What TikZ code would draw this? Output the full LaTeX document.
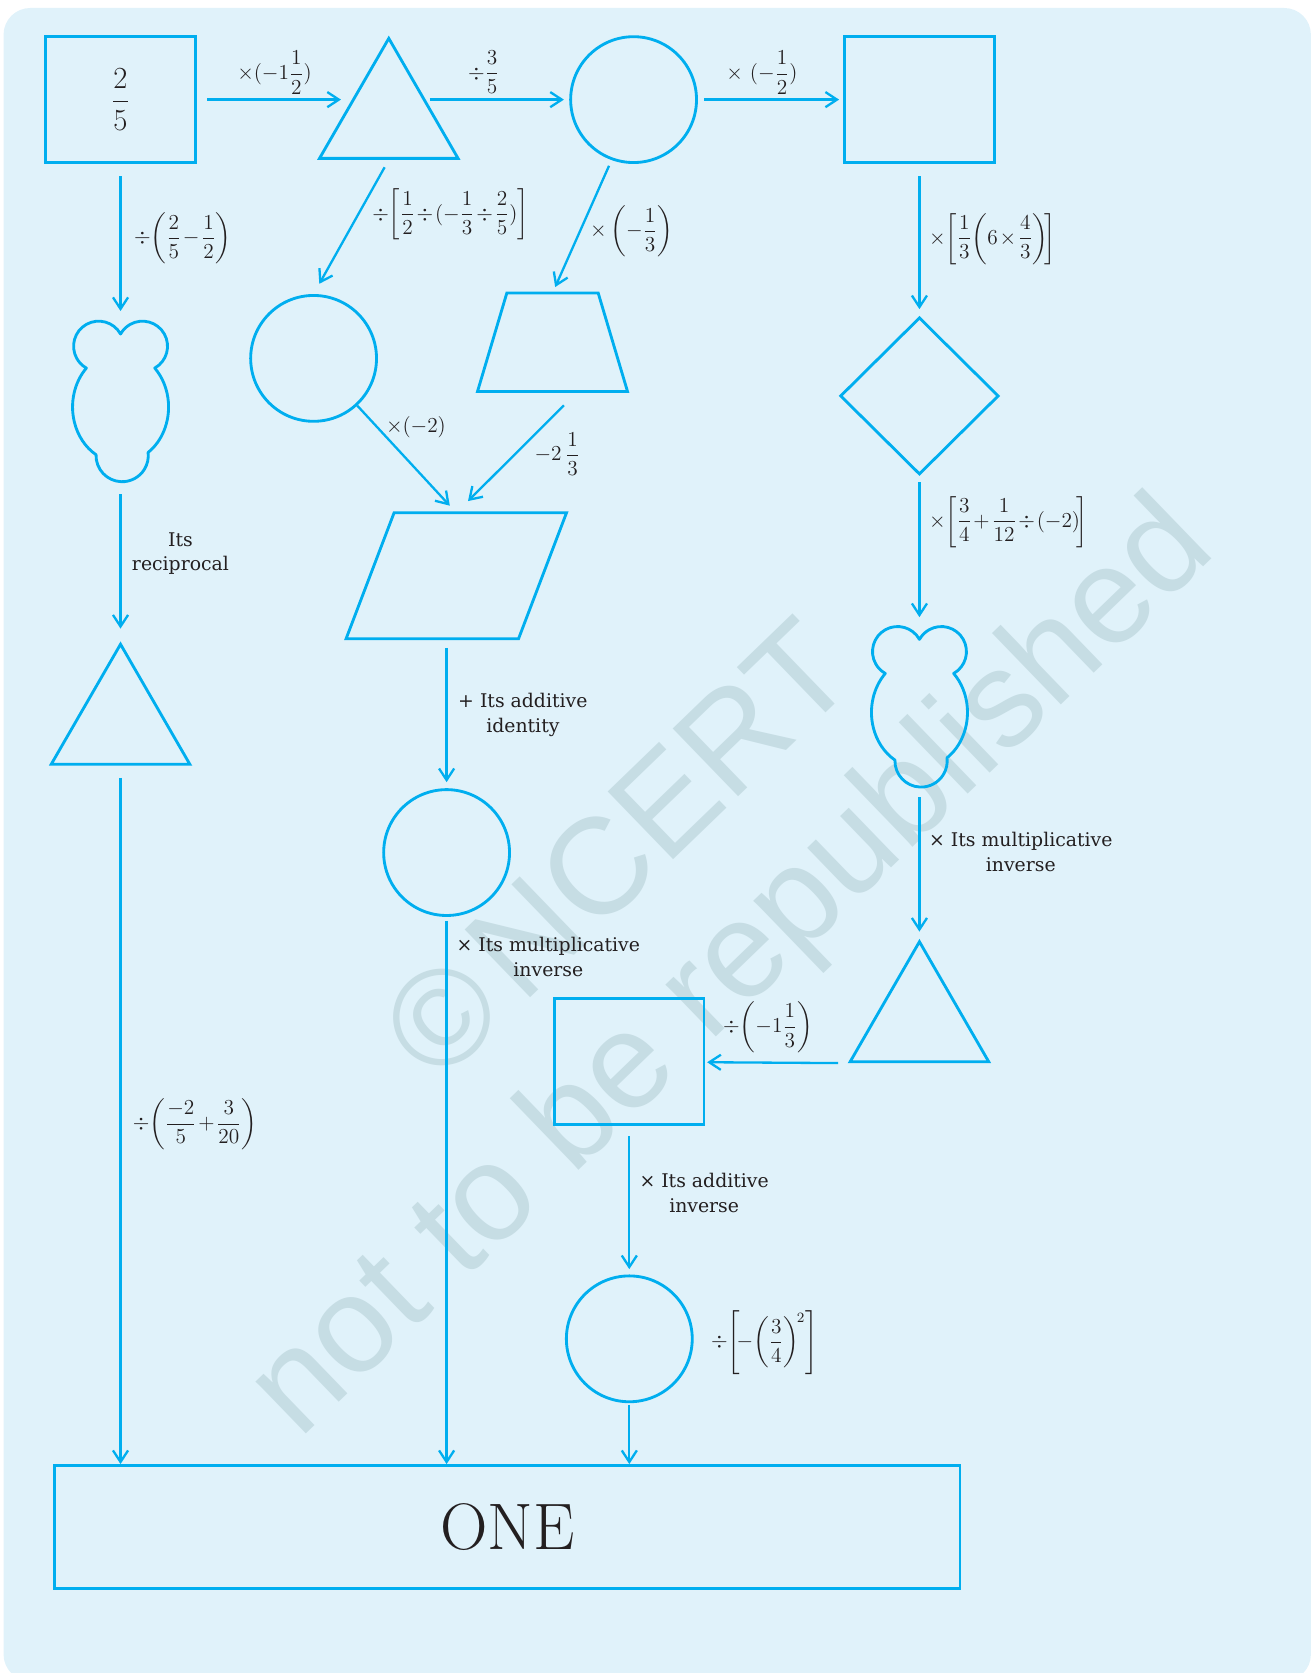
\documentclass[tikz,border=0pt]{standalone}
\usepackage{amsmath}
\usepackage{fontspec}
\newfontfamily\wmfont{Liberation Sans}
\newfontfamily\notefont{DejaVu Serif}
\usetikzlibrary{arrows.meta}
\usetikzlibrary{positioning}
\usetikzlibrary{shapes.geometric}

\definecolor{bgblue}{RGB}{224,242,250}
\definecolor{lineblue}{RGB}{0,174,239}
\definecolor{ink}{RGB}{35,31,32}
\definecolor{wmgrey}{RGB}{198,221,228}

\tikzset{
  shp/.style={draw=lineblue, line width=1.6pt, inner sep=0pt, on grid},
  sqbox/.style={shp, rectangle, minimum width=84pt, minimum height=71pt},
  circ/.style={shp, circle, minimum size=70.8pt},
  tri/.style={shp, regular polygon, regular polygon sides=3, minimum size=90pt},
  diam/.style={shp, diamond, minimum width=89.2pt, minimum height=88.4pt},
  trapbox/.style={rectangle, inner sep=0pt, minimum width=84pt, minimum height=55pt, on grid},
  parabox/.style={rectangle, inner sep=0pt, minimum width=123.6pt, minimum height=70.5pt, on grid},
  blob/.style={rectangle, inner sep=0pt, minimum width=54pt, minimum height=90.6pt, on grid},
  outline/.style={draw=lineblue, line width=1.6pt},
  onebox/.style={shp, rectangle, minimum width=509.4pt, minimum height=69.3pt,
    text=ink, font=\fontsize{37}{44}\selectfont},
  conn/.style={draw=lineblue, line width=1.3pt, -{Straight Barb[length=6.5pt,width=8.5pt]}},
  lbl/.style={text=ink, inner sep=0pt, font=\fontsize{12}{14}\selectfont,
    execute at begin node={\medmuskip=1.5mu\thickmuskip=3mu}},
  note/.style={text=ink, inner sep=0pt, align=center, font=\notefont\fontsize{10.6}{13.8}\selectfont},
  wm/.style={text=wmgrey, rotate=44, align=center, font=\wmfont\fontsize{77}{88.6}\selectfont},
  blobline/.pic={
    \draw [outline, line join=round] (0pt,38.09pt)
      arc[start angle=29.27, end angle=240.65, radius=14.1pt]
      arc[start angle=135.4, end angle=239.3, x radius=27pt, y radius=31.2pt]
      arc[start angle=178.1, end angle=366.85, radius=14.7pt]
      arc[start angle=305, end angle=404.6, x radius=27pt, y radius=31.2pt]
      arc[start angle=299.35, end angle=510.73, radius=14.1pt] -- cycle;
  }
}

\begin{document}
\begin{tikzpicture}
  \useasboundingbox (0,0) rectangle (739.2pt,-941.1pt);
  \fill [bgblue, rounded corners=15pt] (2pt,-4.5pt) rectangle (737.4pt,-945.6pt);
  \node [wm] (wmark) at (383pt,-515pt) {\textcopyright\hspace{0.12em}NCERT\\not to be republished};

  % top row
  \node [sqbox, text=ink, font=\fontsize{18.6}{22}\selectfont] (sq1) at (67.8pt,-56.04pt) {$\dfrac{2}{5}$};
  \node [tri] (tri1) [below right=10.56pt and 150.9pt of sq1] {};
  \node [circ] (circ1) [right=288.6pt of sq1] {};
  \node [sqbox] (sq2) [right=160.8pt of circ1] {};

  % second row
  \node [blob] (blob1) [below=169.92pt of sq1] {};
  \node [circ] (circ2) [below left=135pt and 42.3pt of tri1] {};
  \node [trapbox] (trap) [below left=136.5pt and 45.6pt of circ1] {};
  \node [diam] (diam) [below=166.68pt of sq2] {};

  \node [parabox] (para) [below right=122.28pt and 80.28pt of circ2] {};
  \node [tri] (tri2) [below=181.44pt of blob1] {};
  \node [blob] (blob2) [below=175.02pt of diam] {};

  \node [circ] (circ3) [below left=155.7pt and 5.46pt of para] {};
  \node [tri] (tri3) [below=177pt of blob2] {};
  \node [sqbox] (sq3) [below left=22.5pt and 163.2pt of tri3] {};
  \node [circ] (circ4) [below=155.88pt of sq3] {};
  \node [onebox] (one) [below left=105.9pt and 68.7pt of circ4] {ONE};

  % shapes that are drawn round their nodes
  \pic at (blob1) {blobline};
  \pic at (blob2) {blobline};
  \draw [outline] (trap.south west) -- ([xshift=16.5pt]trap.north west)
    -- ([xshift=-16.5pt]trap.north east) -- (trap.south east) -- cycle;
  \draw [outline] (para.south west) -- ([xshift=27pt]para.north west)
    -- (para.north east) -- ([xshift=-27pt]para.south east) -- cycle;

  \draw [conn, shorten <=6pt] (sq1.east) -- node [lbl, pos=0.54, yshift=15.2pt] (op1) {$\times(-1\dfrac{1}{2})$} (sq1.east -| tri1.west);
  \draw [conn, shorten <=-4pt, shorten >=3pt] (tri1.east |- circ1) -- node [lbl, pos=0.355, yshift=15.3pt] (op2) {$\div\dfrac{3}{5}$} (circ1);
  \draw [conn, shorten <=3.6pt, shorten >=2.4pt] (circ1) -- node [lbl, pos=0.44, yshift=15.2pt] (op3) {$\times\ (-\dfrac{1}{2})$} (sq2);

  \draw [conn, shorten <=6.9pt, shorten >=5.5pt] (sq1) -- node [lbl, pos=0.473, anchor=west, xshift=7pt] (op4) {$\div\!\left(\dfrac{2}{5}-\dfrac{1}{2}\right)$} (blob1);
  \draw [conn, shorten <=4.8pt, shorten >=6.6pt] (tri1.south) -- node [lbl, pos=0.409, anchor=west, xshift=7.4pt] (op5) {$\div\!\left[\dfrac{1}{2}\div(-\dfrac{1}{3}\div\dfrac{2}{5})\right]$} (circ2.north);
  \draw [conn, shorten <=3.5pt, shorten >=3.7pt] (circ1.250) -- node [lbl, pos=0.535, anchor=west, xshift=5.1pt] (op6) {$\times\left(-\dfrac{1}{3}\right)$} (trap.north);
  \draw [conn, shorten <=6.7pt, shorten >=3.8pt] (sq2) -- node [lbl, pos=0.492, anchor=west, xshift=4.8pt] (op7) {$\times\!\left[\dfrac{1}{3}\!\left(6\times\dfrac{4}{3}\right)\!\right]$} (diam);

  \draw [conn, shorten >=5.4pt] (circ2) -- node [lbl, pos=0.203, anchor=west, xshift=4.2pt] (op10) {$\times(-2)$} (para.north);
  \draw [conn, shorten <=11pt, shorten >=9.3pt] ([xshift=14.2pt]trap.south) -- node [lbl, pos=0.516, anchor=west, xshift=10.3pt] (op11) {$-2\,\dfrac{1}{3}$} (para.north);
  \draw [conn, shorten <=3.6pt, shorten >=5.1pt] (diam) -- node [lbl, pos=0.306, anchor=west, xshift=4.8pt] (op8) {$\times\!\left[\dfrac{3}{4}+\dfrac{1}{12}\div(-2)\!\right]$} (blob2);

  \draw [conn, shorten <=6.5pt, shorten >=7.2pt] (blob1) -- node [note, pos=0.447, anchor=west, xshift=5.8pt] (op9) {Its\\reciprocal} (tri2);
  \draw [conn, shorten <=5.1pt, shorten >=3.4pt] (circ3 |- para.south) -- node [note, pos=0.51, anchor=west, xshift=5.9pt] (op12) {+ Its additive\\identity} (circ3);
  \draw [conn, shorten <=5.2pt, shorten >=4.1pt] (blob2) -- node [note, pos=0.423, anchor=west, xshift=4.8pt] (op13) {× Its multiplicative\\inverse} (tri3);
  \draw [conn, shorten <=5.4pt, shorten >=1pt] (tri3.corner 2) -- node [lbl, pos=0.56, yshift=20pt] (op15) {$\div\!\left(-1\dfrac{1}{3}\right)$} (sq3);
  \draw [conn, shorten <=5.5pt, shorten >=3pt] (sq3) -- node [note, pos=0.45, anchor=west, xshift=5.1pt] (op16) {× Its additive\\inverse} (circ4);
  \node [lbl] (op17) [right=9.6pt of circ4, yshift=-2pt] {$\div\!\left[\!-\!\left(\dfrac{3}{4}\right)^{\!2}\right]$};

  \draw [conn, shorten <=6.9pt] (tri2.south) -- node [lbl, pos=0.513, anchor=west, xshift=6.3pt] (op18) {$\div\!\left(\dfrac{-2}{5}+\dfrac{3}{20}\right)$} (tri2.south |- one.north);
  \draw [conn, shorten <=2.2pt] (circ3.south) -- node [note, pos=0.073, anchor=west, xshift=5pt] (op14) {× Its multiplicative\\inverse} (circ3.south |- one.north);
  \draw [conn, shorten <=1pt] (circ4.south) -- (circ4.south |- one.north);
\end{tikzpicture}
\end{document}
